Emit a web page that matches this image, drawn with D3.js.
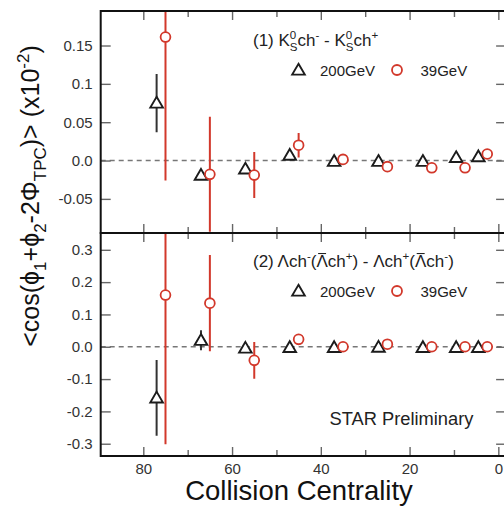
<!DOCTYPE html>
<html>
<head>
<meta charset="utf-8">
<script src="https://cdn.jsdelivr.net/npm/d3@7"></script>
<style>
  html, body { margin: 0; padding: 0; background: #fff; }
  svg { display: block; font-family: "Liberation Sans", Arial, Helvetica, sans-serif; }
</style>
</head>
<body>
<svg id="chart" width="504" height="506"></svg>
<script>
// Centrality (%) of each point; the 200 GeV points are shifted by +2 for visibility
const centrality200 = [77, 67, 57, 47, 37, 27, 17, 9.5, 4.5];
const centrality39  = [75, 65, 55, 45, 35, 25, 15, 7.5, 2.5];

// Panel 1: K0S ch- minus K0S ch+
const kch200    = [0.075, -0.019, -0.011, 0.007, -0.001, -0.001, -0.001, 0.004, 0.005];
const kch200Err = [0.038, 0.004, 0.004, 0.004, 0.003, 0.003, 0.003, 0.003, 0.003];
const kch39     = [0.161, -0.018, -0.019, 0.020, 0.0015, -0.008, -0.0095, -0.0095, 0.0085];
const kch39Err  = [0.187, 0.075, 0.030, 0.016, 0.004, 0.004, 0.004, 0.004, 0.004];

// Panel 2: Lambda ch- (antiLambda ch+) minus Lambda ch+ (antiLambda ch-)
const lch200    = [-0.158, 0.020, -0.004, -0.002, -0.002, -0.001, -0.002, -0.002, -0.002];
const lch200Err = [0.117, 0.031, 0.008, 0.006, 0.005, 0.005, 0.005, 0.005, 0.005];
const lch39     = [0.160, 0.135, -0.042, 0.023, 0.0, 0.008, 0.0, 0.0, 0.0];
const lch39Err  = [0.462, 0.149, 0.057, 0.010, 0.008, 0.008, 0.008, 0.008, 0.008];

// Axis ticks
const xMajorTicks = [80, 60, 40, 20, 0];
const xMinorTicks = [70, 50, 30, 10];
const y1Ticks = [-0.05, 0, 0.05, 0.1, 0.15];
const y1TickLabels = ["-0.05", "0.0", "0.05", "0.1", "0.15"];
const y2Ticks = [-0.3, -0.2, -0.1, 0, 0.1, 0.2, 0.3];
const y2TickLabels = ["-0.3", "-0.2", "-0.1", "0.0", "0.1", "0.2", "0.3"];

const seriesNames = ["200GeV", "39GeV"];

const RED = "#d2382b";
const BLACK = "#1c1c1c";

const svg = d3.select("#chart");
svg.append("rect").attr("width", 504).attr("height", 506).attr("fill", "#fff");

const x = d3.scaleLinear().domain([89.6, -1.75]).range([100.7, 506.1]);
const panels = [
  { y: d3.scaleLinear().domain([-0.0945, 0.195]).range([233, 11]),
    ticks: y1Ticks, labels: y1TickLabels,
    s200: kch200, e200: kch200Err, s39: kch39, e39: kch39Err },
  { y: d3.scaleLinear().domain([-0.338, 0.352]).range([456, 233]),
    ticks: y2Ticks, labels: y2TickLabels,
    s200: lch200, e200: lch200Err, s39: lch39, e39: lch39Err }
];

const x0 = x.range()[0], x1 = x.range()[1];

// Rich text helper: parts carry a baseline shift (in em, up positive), a size
// scale, an optional dx and an optional overline bar drawn above the glyphs
function richText(g, px, py, size, parts, anchor) {
  const t = g.append("text")
    .attr("x", px).attr("y", py)
    .attr("font-size", size)
    .attr("fill", "#222")
    .attr("text-anchor", anchor || "start");
  let cur = 0, idx = 0;
  const bars = [];
  parts.forEach(p => {
    if (typeof p === "string") p = { t: p };
    const shift = p.shift || 0;
    const sc = p.s || 1;
    const ts = t.append("tspan")
      .attr("font-size", size * sc)
      .attr("dy", -(shift - cur) * size)
      .text(p.t);
    if (p.dx) ts.attr("dx", p.dx);
    if (p.bar) bars.push(idx);
    idx += p.t.length;
    cur = shift;
  });
  bars.forEach(ci => {
    const e = t.node().getExtentOfChar(ci);
    g.append("line")
      .attr("x1", e.x + e.width * 0.15).attr("x2", e.x + e.width * 0.85)
      .attr("y1", e.y + e.height * 0.08).attr("y2", e.y + e.height * 0.08)
      .attr("stroke", "#222").attr("stroke-width", 1.1);
  });
  return t;
}

const triPath = "M0,-6.2 L6.3,4.6 L-6.3,4.6 Z";

panels.forEach((p, i) => {
  const y = p.y;
  const yTop = y.range()[1], yBot = y.range()[0];
  const g = svg.append("g");

  const clipId = "clip" + i;
  svg.append("clipPath").attr("id", clipId)
    .append("rect").attr("x", x0).attr("y", yTop).attr("width", x1 - x0).attr("height", yBot - yTop);

  // zero reference line
  g.append("line")
    .attr("x1", x0).attr("x2", x1)
    .attr("y1", y(0)).attr("y2", y(0))
    .attr("stroke", "#777").attr("stroke-width", 1.4)
    .attr("stroke-dasharray", "5,4");

  // left axis with labels
  const left = d3.axisLeft(y).tickValues(p.ticks)
    .tickFormat((d, k) => p.labels[k])
    .tickSizeInner(-10).tickSizeOuter(0).tickPadding(8);
  const gl = g.append("g").attr("transform", `translate(${x0},0)`).call(left);
  // right axis, ticks only
  const right = d3.axisRight(y).tickValues(p.ticks).tickFormat("")
    .tickSizeInner(-10).tickSizeOuter(0);
  const gr = g.append("g").attr("transform", `translate(${x1},0)`).call(right);

  // x ticks on top and bottom edges of the panel
  const xb = g.append("g").attr("transform", `translate(0,${yBot})`)
    .call(d3.axisBottom(x).tickValues(xMajorTicks).tickSizeInner(-9).tickSizeOuter(0)
      .tickPadding(7).tickFormat(i === 1 ? d3.format("d") : ""));
  const xbm = g.append("g").attr("transform", `translate(0,${yBot})`)
    .call(d3.axisBottom(x).tickValues(xMinorTicks).tickSizeInner(-6).tickSizeOuter(0).tickFormat(""));
  const xt = g.append("g").attr("transform", `translate(0,${yTop})`)
    .call(d3.axisTop(x).tickValues(xMajorTicks).tickSizeInner(-9).tickSizeOuter(0).tickFormat(""));
  const xtm = g.append("g").attr("transform", `translate(0,${yTop})`)
    .call(d3.axisTop(x).tickValues(xMinorTicks).tickSizeInner(-6).tickSizeOuter(0).tickFormat(""));

  [gl, gr, xb, xbm, xt, xtm].forEach(a => {
    a.select(".domain").remove();
    a.selectAll(".tick line").attr("stroke", "#666").attr("stroke-width", 1.4);
    a.selectAll(".tick text").attr("font-size", 15).attr("fill", "#333")
      .attr("font-family", "'Liberation Sans', Arial, sans-serif");
  });

  // error bars
  const eg = g.append("g").attr("clip-path", `url(#${clipId})`);
  eg.selectAll("line.e200").data(p.s200).join("line")
    .attr("x1", (d, k) => x(centrality200[k])).attr("x2", (d, k) => x(centrality200[k]))
    .attr("y1", (d, k) => y(d - p.e200[k])).attr("y2", (d, k) => y(d + p.e200[k]))
    .attr("stroke", "#333").attr("stroke-width", 2);
  eg.selectAll("line.e39").data(p.s39).join("line")
    .attr("x1", (d, k) => x(centrality39[k])).attr("x2", (d, k) => x(centrality39[k]))
    .attr("y1", (d, k) => y(d - p.e39[k])).attr("y2", (d, k) => y(d + p.e39[k]))
    .attr("stroke", RED).attr("stroke-width", 2);

  // markers
  eg.selectAll("path.m200").data(p.s200).join("path")
    .attr("d", triPath)
    .attr("transform", (d, k) => `translate(${x(centrality200[k])},${y(d)})`)
    .attr("fill", "#fff").attr("stroke", BLACK).attr("stroke-width", 1.9)
    .attr("stroke-linejoin", "miter");
  eg.selectAll("circle.m39").data(p.s39).join("circle")
    .attr("cx", (d, k) => x(centrality39[k])).attr("cy", d => y(d))
    .attr("r", 4.9)
    .attr("fill", "#fff").attr("stroke", RED).attr("stroke-width", 1.8);

  // panel frame
  g.append("rect")
    .attr("x", x0).attr("y", yTop).attr("width", x1 - x0).attr("height", yBot - yTop)
    .attr("fill", "none").attr("stroke", "#111").attr("stroke-width", 2);
});

// Panel annotations and legends
const ann = svg.append("g");
const sub = (t, extra) => Object.assign({ t, shift: -0.28, s: 0.68 }, extra || {});
const sup = (t, extra) => Object.assign({ t, shift: 0.42, s: 0.68 }, extra || {});

richText(ann, 253, 46, 17, [
  "(1) K", sup("0"), sub("S", { dx: -6.4 }), "ch", sup("-"), " - K", sup("0"), sub("S", { dx: -6.4 }), "ch", sup("+")
]);
richText(ann, 253, 267, 17, [
  "(2) \u039Bch", sup("-"), "(", { t: "\u039B", bar: true }, "ch", sup("+"),
  ") - \u039Bch", sup("+"), "(", { t: "\u039B", bar: true }, "ch", sup("-"), ")"
]);

[70, 291].forEach(ly => {
  ann.append("path").attr("d", triPath)
    .attr("transform", `translate(298.5,${ly})`)
    .attr("fill", "#fff").attr("stroke", BLACK).attr("stroke-width", 1.9);
  ann.append("text").attr("x", 320).attr("y", ly + 5.5).attr("font-size", 15)
    .attr("fill", "#222").text(seriesNames[0]);
  ann.append("circle").attr("cx", 397).attr("cy", ly).attr("r", 5)
    .attr("fill", "#fff").attr("stroke", RED).attr("stroke-width", 1.8);
  ann.append("text").attr("x", 420.5).attr("y", ly + 5.5).attr("font-size", 15)
    .attr("fill", "#222").text(seriesNames[1]);
});

ann.append("text").attr("x", 329.5).attr("y", 425).attr("font-size", 18.3)
  .attr("fill", "#222").text("STAR Preliminary");

// Axis titles
svg.append("text").attr("x", 299).attr("y", 500).attr("font-size", 27.5)
  .attr("text-anchor", "middle").attr("fill", "#111").text("Collision Centrality");

const yt = svg.append("g").attr("transform", "translate(39,196) rotate(-90)");
richText(yt, 0, 0, 25, [
  "<cos(\u03D5", sub("1"), "+\u03D5", sub("2"), "-2\u03A6", sub("TPC"), ")> (x10", sup("-2"), ")"
], "middle").attr("fill", "#111");
</script>
</body>
</html>
